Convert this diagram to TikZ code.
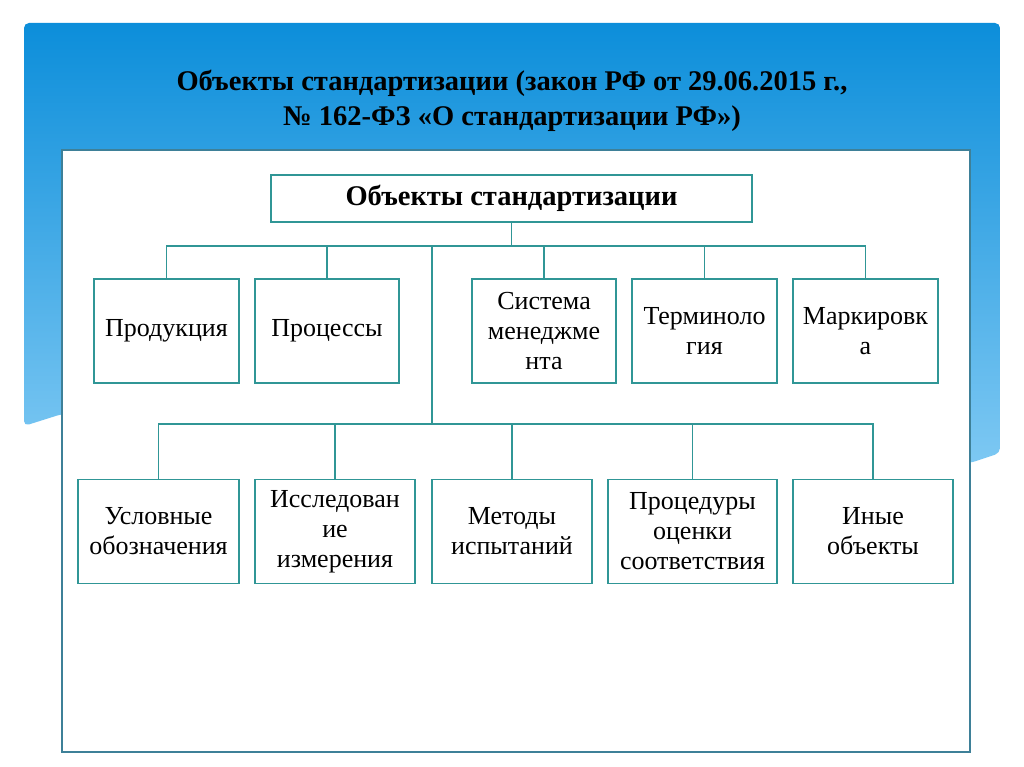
\documentclass[tikz,border=0pt]{standalone}
\usepackage{fontspec}
\setmainfont{Liberation Serif}
\usepackage{tikz}
\usetikzlibrary{positioning}
\usepackage{xcolor}

\begin{document}
\begin{tikzpicture}[x=1pt, y=-1pt, every node/.style={font=\fontsize{26}{30}\selectfont}]
			% Define colors
			\definecolor{slide_top}{RGB}{12, 142, 218}
			\definecolor{slide_bottom}{RGB}{125, 200, 243}
			\definecolor{frame_line}{RGB}{62, 128, 152}
			\definecolor{box_line}{RGB}{48, 150, 150}

			% Styles
			\tikzstyle{obj_box} = [draw=box_line, line width=1.5pt, fill=white, minimum height=104pt, align=center, inner sep=2pt]
			\tikzstyle{head_box} = [draw=box_line, line width=1.5pt, fill=white, minimum width=481pt, minimum height=47pt, align=center, font=\fontsize{28.5}{32}\selectfont\bfseries]
			\tikzstyle{link} = [draw=box_line, line width=1.5pt]

			% Page and slide background
			\useasboundingbox (0,0) rectangle (1024,767);
			\fill[white] (0,0) rectangle (1024,767);
			\shade[top color=slide_top, bottom color=slide_bottom, rounded corners=5pt]
				(24,23) -- (1000,23) -- (1000,453) -- (970,463) -- (500,440) -- (62,414) -- (24,426) -- cycle;

			% Title
			\node[font=\fontsize{28.5}{35}\selectfont\bfseries, align=center] (title) at (512,101)
				{Объекты стандартизации (закон РФ от 29.06.2015 г.,\\ № 162-ФЗ «О стандартизации РФ»)};

			% White content frame
			\draw[frame_line, line width=1.5pt, fill=white] (62,150) rectangle (970,752);

			% Head box
			\node[head_box] (head) at (511.5,198.5) {Объекты стандартизации};

			% Upper row
			\node[obj_box, minimum width=145pt] (prod) at (166.5,331) {Продукция};
			\node[obj_box, minimum width=144pt] (proc) at (327,331) {Процессы};
			\node[obj_box, minimum width=144pt] (mgmt) at (544,331) {Система\\ менеджме\\ нта};
			\node[obj_box, minimum width=145pt] (term) at (704.5,331) {Терминоло\\ гия};
			\node[obj_box, minimum width=145pt] (mark) at (865.5,331) {Маркировк\\ а};

			% Lower row
			\node[obj_box, minimum width=161pt] (symb) at (158.5,531.5) {Условные\\ обозначения};
			\node[obj_box, minimum width=160pt] (meas) at (335,531.5) {Исследован\\ ие\\ измерения};
			\node[obj_box, minimum width=160pt] (test) at (512,531.5) {Методы\\ испытаний};
			\node[obj_box, minimum width=169pt] (conf) at (692.5,531.5) {Процедуры\\ оценки\\ соответствия};
			\node[obj_box, minimum width=160pt] (other) at (873,531.5) {Иные\\ объекты};

			% Buses
			\coordinate (bus_up) at (511.5,246);
			\coordinate (trunk_top) at (432,246);
			\coordinate (bus_low) at (432,424);

			% Connectors
			\draw[link] (head.south) -- (bus_up);
			\foreach \n in {prod, proc, mgmt, term, mark}
				\draw[link] (bus_up) -| (\n.north);
			\draw[link] (trunk_top) -- (bus_low);
			\foreach \n in {symb, meas, test, conf, other}
				\draw[link] (bus_low) -| (\n.north);

		\end{tikzpicture}
\end{document}
